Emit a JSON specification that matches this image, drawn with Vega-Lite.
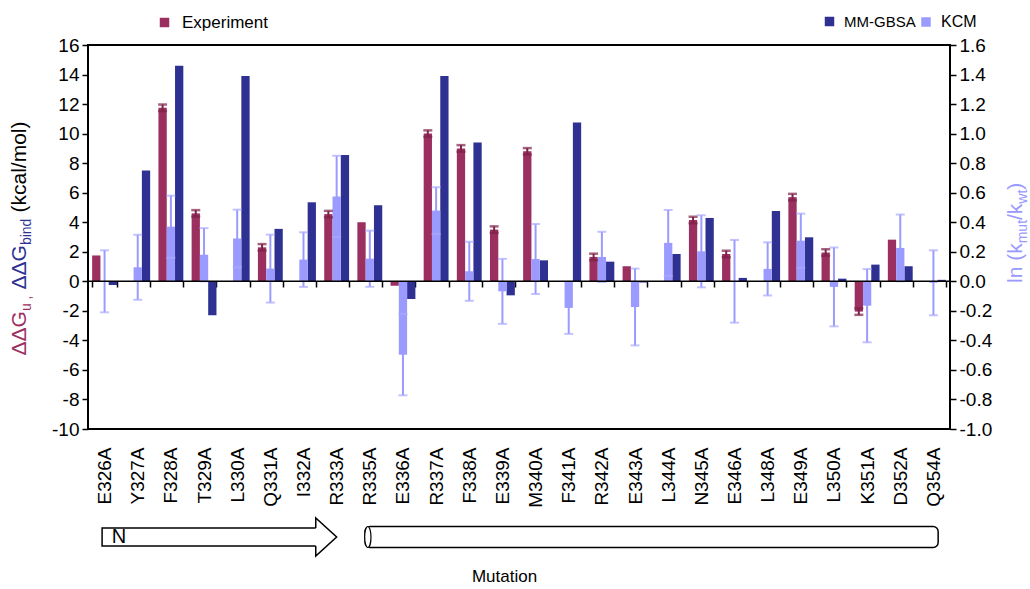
{
  "$schema": "https://vega.github.io/schema/vega-lite/v6.json",
  "padding": {"left": 7, "top": 13, "right": 0, "bottom": 0},
  "config": {
    "font": "Liberation Sans",
    "view": {"stroke": null},
    "axis": {"labelFont": "Liberation Sans", "titleFont": "Liberation Sans", "labelColor": "black", "titleFontWeight": "normal", "grid": false},
    "legend": {"labelFont": "Liberation Sans", "labelColor": "black"},
    "locale": {"number": {"decimal": ".", "thousands": ",", "grouping": [3], "currency": ["$", ""], "minus": "-"}}
  },
  "datasets": {
    "d": [
      {"m": "E326A", "s": "Experiment", "v": 1.75},
      {"m": "F328A", "s": "Experiment", "v": 11.75, "lo": 11.53, "hi": 11.97},
      {"m": "T329A", "s": "Experiment", "v": 4.6, "lo": 4.38, "hi": 4.82},
      {"m": "Q331A", "s": "Experiment", "v": 2.3, "lo": 2.08, "hi": 2.52},
      {"m": "R333A", "s": "Experiment", "v": 4.55, "lo": 4.33, "hi": 4.77},
      {"m": "R335A", "s": "Experiment", "v": 4.0},
      {"m": "E336A", "s": "Experiment", "v": -0.3},
      {"m": "R337A", "s": "Experiment", "v": 10.0, "lo": 9.78, "hi": 10.22},
      {"m": "F338A", "s": "Experiment", "v": 9.0, "lo": 8.78, "hi": 9.22},
      {"m": "E339A", "s": "Experiment", "v": 3.5, "lo": 3.28, "hi": 3.72},
      {"m": "M340A", "s": "Experiment", "v": 8.8, "lo": 8.58, "hi": 9.02},
      {"m": "R342A", "s": "Experiment", "v": 1.65, "lo": 1.43, "hi": 1.87},
      {"m": "E343A", "s": "Experiment", "v": 1.02},
      {"m": "N345A", "s": "Experiment", "v": 4.15, "lo": 3.93, "hi": 4.37},
      {"m": "E346A", "s": "Experiment", "v": 1.85, "lo": 1.63, "hi": 2.07},
      {"m": "E349A", "s": "Experiment", "v": 5.7, "lo": 5.48, "hi": 5.92},
      {"m": "L350A", "s": "Experiment", "v": 1.95, "lo": 1.73, "hi": 2.17},
      {"m": "K351A", "s": "Experiment", "v": -2.05, "lo": -2.27, "hi": -1.83},
      {"m": "D352A", "s": "Experiment", "v": 2.82},
      {"m": "E326A", "s": "MM-GBSA", "v": -0.25},
      {"m": "Y327A", "s": "MM-GBSA", "v": 7.5},
      {"m": "F328A", "s": "MM-GBSA", "v": 14.6},
      {"m": "T329A", "s": "MM-GBSA", "v": -2.3},
      {"m": "L330A", "s": "MM-GBSA", "v": 13.9},
      {"m": "Q331A", "s": "MM-GBSA", "v": 3.55},
      {"m": "I332A", "s": "MM-GBSA", "v": 5.35},
      {"m": "R333A", "s": "MM-GBSA", "v": 8.55},
      {"m": "R335A", "s": "MM-GBSA", "v": 5.15},
      {"m": "E336A", "s": "MM-GBSA", "v": -1.2},
      {"m": "R337A", "s": "MM-GBSA", "v": 13.9},
      {"m": "F338A", "s": "MM-GBSA", "v": 9.4},
      {"m": "E339A", "s": "MM-GBSA", "v": -0.95},
      {"m": "M340A", "s": "MM-GBSA", "v": 1.42},
      {"m": "F341A", "s": "MM-GBSA", "v": 10.75},
      {"m": "R342A", "s": "MM-GBSA", "v": 1.33},
      {"m": "E343A", "s": "MM-GBSA", "v": -0.08},
      {"m": "L344A", "s": "MM-GBSA", "v": 1.85},
      {"m": "N345A", "s": "MM-GBSA", "v": 4.29},
      {"m": "E346A", "s": "MM-GBSA", "v": 0.23},
      {"m": "L348A", "s": "MM-GBSA", "v": 4.76},
      {"m": "E349A", "s": "MM-GBSA", "v": 2.98},
      {"m": "L350A", "s": "MM-GBSA", "v": 0.18},
      {"m": "K351A", "s": "MM-GBSA", "v": 1.13},
      {"m": "D352A", "s": "MM-GBSA", "v": 1.02},
      {"m": "Q354A", "s": "MM-GBSA", "v": 0.1},
      {"m": "E326A", "s": "KCM", "v": 0.0, "lo": -0.21, "hi": 0.21},
      {"m": "Y327A", "s": "KCM", "v": 0.095, "lo": -0.125, "hi": 0.315},
      {"m": "F328A", "s": "KCM", "v": 0.37, "lo": 0.16, "hi": 0.58},
      {"m": "T329A", "s": "KCM", "v": 0.18, "lo": 0.0, "hi": 0.36},
      {"m": "L330A", "s": "KCM", "v": 0.29, "lo": 0.095, "hi": 0.485},
      {"m": "Q331A", "s": "KCM", "v": 0.086, "lo": -0.144, "hi": 0.316},
      {"m": "I332A", "s": "KCM", "v": 0.147, "lo": -0.038, "hi": 0.332},
      {"m": "R333A", "s": "KCM", "v": 0.575, "lo": 0.3, "hi": 0.85},
      {"m": "R335A", "s": "KCM", "v": 0.153, "lo": -0.037, "hi": 0.343},
      {"m": "E336A", "s": "KCM", "v": -0.497, "lo": -0.772, "hi": -0.222},
      {"m": "R337A", "s": "KCM", "v": 0.479, "lo": 0.321, "hi": 0.637},
      {"m": "F338A", "s": "KCM", "v": 0.068, "lo": -0.132, "hi": 0.268},
      {"m": "E339A", "s": "KCM", "v": -0.068, "lo": -0.288, "hi": 0.152},
      {"m": "M340A", "s": "KCM", "v": 0.151, "lo": -0.086, "hi": 0.388},
      {"m": "F341A", "s": "KCM", "v": -0.18, "lo": -0.356, "hi": -0.004},
      {"m": "R342A", "s": "KCM", "v": 0.165, "lo": -0.005, "hi": 0.335},
      {"m": "E343A", "s": "KCM", "v": -0.174, "lo": -0.434, "hi": 0.086},
      {"m": "L344A", "s": "KCM", "v": 0.26, "lo": 0.037, "hi": 0.483},
      {"m": "N345A", "s": "KCM", "v": 0.203, "lo": -0.041, "hi": 0.447},
      {"m": "E346A", "s": "KCM", "v": 0.0, "lo": -0.28, "hi": 0.28},
      {"m": "L348A", "s": "KCM", "v": 0.084, "lo": -0.096, "hi": 0.264},
      {"m": "E349A", "s": "KCM", "v": 0.275, "lo": 0.092, "hi": 0.458},
      {"m": "L350A", "s": "KCM", "v": -0.038, "lo": -0.305, "hi": 0.229},
      {"m": "K351A", "s": "KCM", "v": -0.165, "lo": -0.413, "hi": 0.083},
      {"m": "D352A", "s": "KCM", "v": 0.226, "lo": 0.0, "hi": 0.452},
      {"m": "Q354A", "s": "KCM", "v": -0.01, "lo": -0.23, "hi": 0.21}
    ],
    "ss": [
      {"t": "strand", "a": "E326A", "b": "R333A"},
      {"t": "helix", "a": "R335A", "b": "Q354A"}
    ]
  },
  "spacing": 6,
  "resolve": {"scale": {"x": "shared"}},
  "vconcat": [
    {
      "width": 862,
      "height": 384,
      "data": {"name": "d"},
      "view": {"stroke": "black", "strokeWidth": 2},
      "resolve": {"scale": {"y": "independent", "color": "independent"}, "axis": {"y": "independent"}, "legend": {"color": "independent"}},
      "layer": [
        {
          "transform": [{"filter": "datum.s === 'Experiment'"}],
          "mark": {"type": "bar"},
          "encoding": {
            "x": {"field": "m", "type": "nominal", "scale": {"domain": ["E326A","Y327A","F328A","T329A","L330A","Q331A","I332A","R333A","R335A","E336A","R337A","F338A","E339A","M340A","F341A","R342A","E343A","L344A","N345A","E346A","L348A","E349A","L350A","K351A","D352A","Q354A"], "paddingInner": 0.25, "paddingOuter": 0.125}, "axis": {"orient": "bottom", "offset": -148, "domain": false, "ticks": true, "tickBand": "extent", "tickSize": 6, "tickWidth": 1.5, "tickColor": "black", "labelAngle": -90, "labelPadding": 160, "labelFontSize": 19, "title": null}},
            "xOffset": {"field": "s", "type": "nominal", "scale": {"domain": ["Experiment", "KCM", "MM-GBSA"]}},
            "y": {"field": "v", "type": "quantitative", "scale": {"domain": [-10, 16], "nice": false}, "axis": {"orient": "left", "values": [-10,-8,-6,-4,-2,0,2,4,6,8,10,12,14,16], "domain": false, "grid": false, "tickSize": 6, "tickWidth": 1.5, "tickColor": "black", "labelFontSize": 19, "labelPadding": 3, "title": "ΔΔG", "titleX": -62.5, "titleY": 310, "titleAngle": -90, "titleAlign": "left", "titleBaseline": "alphabetic", "titleColor": "#9b2f5f", "titleFontSize": 21}},
            "color": {"field": "s", "type": "nominal", "scale": {"domain": ["Experiment"], "range": ["#9b2f5f"]}, "legend": {"orient": "none", "legendX": 68, "legendY": -31, "title": null, "symbolType": "square", "symbolSize": 90, "symbolStrokeWidth": 0, "labelFontSize": 17, "padding": 0, "labelOffset": 9}}
          }
        },
        {
          "transform": [{"filter": "datum.s === 'MM-GBSA'"}],
          "mark": {"type": "bar"},
          "encoding": {
            "x": {"field": "m", "type": "nominal", "scale": {"domain": ["E326A","Y327A","F328A","T329A","L330A","Q331A","I332A","R333A","R335A","E336A","R337A","F338A","E339A","M340A","F341A","R342A","E343A","L344A","N345A","E346A","L348A","E349A","L350A","K351A","D352A","Q354A"], "paddingInner": 0.25, "paddingOuter": 0.125}, "axis": {"orient": "bottom", "offset": -148, "domain": false, "ticks": true, "tickBand": "extent", "tickSize": 6, "tickWidth": 1.5, "tickColor": "black", "labelAngle": -90, "labelPadding": 160, "labelFontSize": 19, "title": null}},
            "xOffset": {"field": "s", "type": "nominal", "scale": {"domain": ["Experiment", "KCM", "MM-GBSA"]}},
            "y": {"field": "v", "type": "quantitative", "scale": {"domain": [-10, 16], "nice": false}, "axis": {"orient": "left", "labels": false, "ticks": false, "domain": false, "grid": false, "title": "bind", "titleX": -57.5, "titleY": 199.6, "titleAngle": -90, "titleAlign": "left", "titleBaseline": "alphabetic", "titleColor": "#2e3192", "titleFontSize": 14}},
            "color": {"field": "s", "type": "nominal", "scale": {"domain": ["MM-GBSA"], "range": ["#2e3192"]}, "legend": {"orient": "none", "legendX": 734, "legendY": -31, "title": null, "symbolType": "square", "symbolSize": 90, "symbolStrokeWidth": 0, "labelFontSize": 15, "padding": 0, "labelOffset": 7}}
          }
        },
        {
          "transform": [{"filter": "datum.s === 'KCM'"}],
          "mark": {"type": "bar"},
          "encoding": {
            "x": {"field": "m", "type": "nominal", "scale": {"domain": ["E326A","Y327A","F328A","T329A","L330A","Q331A","I332A","R333A","R335A","E336A","R337A","F338A","E339A","M340A","F341A","R342A","E343A","L344A","N345A","E346A","L348A","E349A","L350A","K351A","D352A","Q354A"], "paddingInner": 0.25, "paddingOuter": 0.125}, "axis": {"orient": "bottom", "offset": -148, "domain": false, "ticks": true, "tickBand": "extent", "tickSize": 6, "tickWidth": 1.5, "tickColor": "black", "labelAngle": -90, "labelPadding": 160, "labelFontSize": 19, "title": null}},
            "xOffset": {"field": "s", "type": "nominal", "scale": {"domain": ["Experiment", "KCM", "MM-GBSA"]}},
            "y": {"field": "v", "type": "quantitative", "scale": {"domain": [-1, 1.6], "nice": false}, "axis": {"orient": "right", "values": [-1,-0.8,-0.6,-0.4,-0.2,0,0.2,0.4,0.6,0.8,1,1.2,1.4,1.6], "format": ".1f", "domain": false, "grid": false, "tickSize": 6, "tickWidth": 1.5, "tickColor": "black", "labelFontSize": 19, "labelPadding": 3, "title": "ln (k", "titleX": 71.5, "titleY": 237.5, "titleAngle": -90, "titleAlign": "left", "titleBaseline": "alphabetic", "titleColor": "#9999ff", "titleFontSize": 21}},
            "color": {"field": "s", "type": "nominal", "scale": {"domain": ["KCM"], "range": ["#9b9bff"]}, "legend": {"orient": "none", "legendX": 830, "legendY": -31, "title": null, "symbolType": "square", "symbolSize": 90, "symbolStrokeWidth": 0, "labelFontSize": 16, "padding": 0, "labelOffset": 7}}
          }
        },
        {
          "transform": [{"filter": "datum.s === 'KCM'"}],
          "mark": {"type": "rule", "color": "#9b9bff", "strokeWidth": 2},
          "encoding": {
            "x": {"field": "m", "type": "nominal", "scale": {"domain": ["E326A","Y327A","F328A","T329A","L330A","Q331A","I332A","R333A","R335A","E336A","R337A","F338A","E339A","M340A","F341A","R342A","E343A","L344A","N345A","E346A","L348A","E349A","L350A","K351A","D352A","Q354A"], "paddingInner": 0.25, "paddingOuter": 0.125}, "axis": {"orient": "bottom", "offset": -148, "domain": false, "ticks": true, "tickBand": "extent", "tickSize": 6, "tickWidth": 1.5, "tickColor": "black", "labelAngle": -90, "labelPadding": 160, "labelFontSize": 19, "title": null}},
            "xOffset": {"field": "s", "type": "nominal", "scale": {"domain": ["Experiment", "KCM", "MM-GBSA"]}},
            "y": {"field": "lo", "type": "quantitative", "scale": {"domain": [-1, 1.6], "nice": false}, "axis": {"orient": "right", "labels": false, "ticks": false, "domain": false, "grid": false, "title": "mut", "titleX": 76.5, "titleY": 197.8, "titleAngle": -90, "titleAlign": "left", "titleBaseline": "alphabetic", "titleColor": "#9999ff", "titleFontSize": 14}},
            "y2": {"field": "hi"}
          }
        },
        {
          "transform": [{"filter": "datum.s === 'KCM'"}],
          "mark": {"type": "tick", "color": "#a9a9ff", "thickness": 2, "size": 9},
          "encoding": {
            "x": {"field": "m", "type": "nominal", "scale": {"domain": ["E326A","Y327A","F328A","T329A","L330A","Q331A","I332A","R333A","R335A","E336A","R337A","F338A","E339A","M340A","F341A","R342A","E343A","L344A","N345A","E346A","L348A","E349A","L350A","K351A","D352A","Q354A"], "paddingInner": 0.25, "paddingOuter": 0.125}, "axis": {"orient": "bottom", "offset": -148, "domain": false, "ticks": true, "tickBand": "extent", "tickSize": 6, "tickWidth": 1.5, "tickColor": "black", "labelAngle": -90, "labelPadding": 160, "labelFontSize": 19, "title": null}},
            "xOffset": {"field": "s", "type": "nominal", "scale": {"domain": ["Experiment", "KCM", "MM-GBSA"]}},
            "y": {"field": "hi", "type": "quantitative", "scale": {"domain": [-1, 1.6], "nice": false}, "axis": {"orient": "right", "labels": false, "ticks": false, "domain": false, "grid": false, "title": "/k", "titleX": 71.5, "titleY": 174.5, "titleAngle": -90, "titleAlign": "left", "titleBaseline": "alphabetic", "titleColor": "#9999ff", "titleFontSize": 21}}
          }
        },
        {
          "transform": [{"filter": "datum.s === 'KCM'"}],
          "mark": {"type": "tick", "color": "#a9a9ff", "thickness": 2, "size": 9},
          "encoding": {
            "x": {"field": "m", "type": "nominal", "scale": {"domain": ["E326A","Y327A","F328A","T329A","L330A","Q331A","I332A","R333A","R335A","E336A","R337A","F338A","E339A","M340A","F341A","R342A","E343A","L344A","N345A","E346A","L348A","E349A","L350A","K351A","D352A","Q354A"], "paddingInner": 0.25, "paddingOuter": 0.125}, "axis": {"orient": "bottom", "offset": -148, "domain": false, "ticks": true, "tickBand": "extent", "tickSize": 6, "tickWidth": 1.5, "tickColor": "black", "labelAngle": -90, "labelPadding": 160, "labelFontSize": 19, "title": null}},
            "xOffset": {"field": "s", "type": "nominal", "scale": {"domain": ["Experiment", "KCM", "MM-GBSA"]}},
            "y": {"field": "lo", "type": "quantitative", "scale": {"domain": [-1, 1.6], "nice": false}, "axis": {"orient": "right", "labels": false, "ticks": false, "domain": false, "grid": false, "title": "wt", "titleX": 76.5, "titleY": 158.2, "titleAngle": -90, "titleAlign": "left", "titleBaseline": "alphabetic", "titleColor": "#9999ff", "titleFontSize": 14}}
          }
        },
        {
          "transform": [{"filter": "datum.s === 'Experiment' && isValid(datum.lo)"}],
          "mark": {"type": "rule", "color": "#7d2249", "strokeWidth": 2},
          "encoding": {
            "x": {"field": "m", "type": "nominal", "scale": {"domain": ["E326A","Y327A","F328A","T329A","L330A","Q331A","I332A","R333A","R335A","E336A","R337A","F338A","E339A","M340A","F341A","R342A","E343A","L344A","N345A","E346A","L348A","E349A","L350A","K351A","D352A","Q354A"], "paddingInner": 0.25, "paddingOuter": 0.125}, "axis": {"orient": "bottom", "offset": -148, "domain": false, "ticks": true, "tickBand": "extent", "tickSize": 6, "tickWidth": 1.5, "tickColor": "black", "labelAngle": -90, "labelPadding": 160, "labelFontSize": 19, "title": null}},
            "xOffset": {"field": "s", "type": "nominal", "scale": {"domain": ["Experiment", "KCM", "MM-GBSA"]}},
            "y": {"field": "lo", "type": "quantitative", "scale": {"domain": [-10, 16], "nice": false}, "axis": {"orient": "left", "labels": false, "ticks": false, "domain": false, "grid": false, "title": "u ,", "titleX": -57.5, "titleY": 265.6, "titleAngle": -90, "titleAlign": "left", "titleBaseline": "alphabetic", "titleColor": "#9b2f5f", "titleFontSize": 14}},
            "y2": {"field": "hi"}
          }
        },
        {
          "transform": [{"filter": "datum.s === 'Experiment' && isValid(datum.lo)"}],
          "mark": {"type": "tick", "color": "#7d2249", "thickness": 2.5, "size": 9},
          "encoding": {
            "x": {"field": "m", "type": "nominal", "scale": {"domain": ["E326A","Y327A","F328A","T329A","L330A","Q331A","I332A","R333A","R335A","E336A","R337A","F338A","E339A","M340A","F341A","R342A","E343A","L344A","N345A","E346A","L348A","E349A","L350A","K351A","D352A","Q354A"], "paddingInner": 0.25, "paddingOuter": 0.125}, "axis": {"orient": "bottom", "offset": -148, "domain": false, "ticks": true, "tickBand": "extent", "tickSize": 6, "tickWidth": 1.5, "tickColor": "black", "labelAngle": -90, "labelPadding": 160, "labelFontSize": 19, "title": null}},
            "xOffset": {"field": "s", "type": "nominal", "scale": {"domain": ["Experiment", "KCM", "MM-GBSA"]}},
            "y": {"field": "hi", "type": "quantitative", "scale": {"domain": [-10, 16], "nice": false}, "axis": {"orient": "left", "labels": false, "ticks": false, "domain": false, "grid": false, "title": "ΔΔG", "titleX": -62.5, "titleY": 244, "titleAngle": -90, "titleAlign": "left", "titleBaseline": "alphabetic", "titleColor": "#2e3192", "titleFontSize": 21}}
          }
        },
        {
          "transform": [{"filter": "datum.s === 'Experiment' && isValid(datum.lo)"}],
          "mark": {"type": "tick", "color": "#7d2249", "thickness": 2.5, "size": 9},
          "encoding": {
            "x": {"field": "m", "type": "nominal", "scale": {"domain": ["E326A","Y327A","F328A","T329A","L330A","Q331A","I332A","R333A","R335A","E336A","R337A","F338A","E339A","M340A","F341A","R342A","E343A","L344A","N345A","E346A","L348A","E349A","L350A","K351A","D352A","Q354A"], "paddingInner": 0.25, "paddingOuter": 0.125}, "axis": {"orient": "bottom", "offset": -148, "domain": false, "ticks": true, "tickBand": "extent", "tickSize": 6, "tickWidth": 1.5, "tickColor": "black", "labelAngle": -90, "labelPadding": 160, "labelFontSize": 19, "title": null}},
            "xOffset": {"field": "s", "type": "nominal", "scale": {"domain": ["Experiment", "KCM", "MM-GBSA"]}},
            "y": {"field": "lo", "type": "quantitative", "scale": {"domain": [-10, 16], "nice": false}, "axis": {"orient": "left", "labels": false, "ticks": false, "domain": false, "grid": false, "title": "(kcal/mol)", "titleX": -62.5, "titleY": 167, "titleAngle": -90, "titleAlign": "left", "titleBaseline": "alphabetic", "titleColor": "black", "titleFontSize": 21}}
          }
        },
        {
          "data": {"values": [{}]},
          "mark": {"type": "rule", "color": "black", "strokeWidth": 1.5},
          "encoding": {
            "y": {"datum": 0, "type": "quantitative", "scale": {"domain": [-1, 1.6], "nice": false}, "axis": {"orient": "right", "labels": false, "ticks": false, "domain": false, "grid": false, "title": ")", "titleX": 71.5, "titleY": 144.2, "titleAngle": -90, "titleAlign": "left", "titleBaseline": "alphabetic", "titleColor": "#9999ff", "titleFontSize": 21}}
          }
        }
      ]
    },
    {
      "width": 862,
      "height": 38,
      "data": {"name": "ss"},
      "view": {"stroke": null},
      "layer": [
        {
          "transform": [{"filter": "datum.t === 'strand'"}],
          "mark": {"type": "rect", "fill": "white", "stroke": "black", "strokeWidth": 1.5},
          "encoding": {
            "x": {"field": "a", "type": "nominal", "bandPosition": 0.4, "scale": {"domain": ["E326A","Y327A","F328A","T329A","L330A","Q331A","I332A","R333A","R335A","E336A","R337A","F338A","E339A","M340A","F341A","R342A","E343A","L344A","N345A","E346A","L348A","E349A","L350A","K351A","D352A","Q354A"], "paddingInner": 0.25, "paddingOuter": 0.125}, "axis": {"labels": false, "ticks": false, "domain": false, "grid": false, "title": "Mutation", "titleFontSize": 17, "titleFontWeight": "normal", "titlePadding": 12, "titleX": 416}},
            "x2": {"field": "b", "bandPosition": 0},
            "y": {"datum": -0.47, "type": "quantitative", "scale": {"domain": [-1, 1]}, "axis": null},
            "y2": {"datum": 0.47}
          }
        },
        {
          "transform": [{"filter": "datum.t === 'strand'"}],
          "mark": {"type": "point", "shape": "M-1.1,-0.47L-1.1,-1L0,0L-1.1,1L-1.1,0.47", "size": 1444, "filled": true, "fill": "white", "stroke": "black", "strokeWidth": 1.5, "opacity": 1},
          "encoding": {
            "x": {"field": "b", "type": "nominal", "scale": {"domain": ["E326A","Y327A","F328A","T329A","L330A","Q331A","I332A","R333A","R335A","E336A","R337A","F338A","E339A","M340A","F341A","R342A","E343A","L344A","N345A","E346A","L348A","E349A","L350A","K351A","D352A","Q354A"], "paddingInner": 0.25, "paddingOuter": 0.125}, "axis": {"labels": false, "ticks": false, "domain": false, "grid": false, "title": "Mutation", "titleFontSize": 17, "titleFontWeight": "normal", "titlePadding": 12, "titleX": 416}},
            "y": {"datum": 0, "type": "quantitative", "axis": null}
          }
        },
        {
          "transform": [{"filter": "datum.t === 'strand'"}],
          "mark": {"type": "text", "text": "N", "fontSize": 20, "dx": 14.5, "align": "center", "baseline": "middle", "color": "black"},
          "encoding": {
            "x": {"field": "a", "type": "nominal", "scale": {"domain": ["E326A","Y327A","F328A","T329A","L330A","Q331A","I332A","R333A","R335A","E336A","R337A","F338A","E339A","M340A","F341A","R342A","E343A","L344A","N345A","E346A","L348A","E349A","L350A","K351A","D352A","Q354A"], "paddingInner": 0.25, "paddingOuter": 0.125}, "axis": {"labels": false, "ticks": false, "domain": false, "grid": false, "title": "Mutation", "titleFontSize": 17, "titleFontWeight": "normal", "titlePadding": 12, "titleX": 416}},
            "y": {"datum": 0, "type": "quantitative", "axis": null}
          }
        },
        {
          "transform": [{"filter": "datum.t === 'helix'"}],
          "mark": {"type": "rect", "fill": "white", "stroke": "black", "strokeWidth": 1.5, "cornerRadius": 5},
          "encoding": {
            "x": {"field": "a", "type": "nominal", "bandPosition": 0.31, "scale": {"domain": ["E326A","Y327A","F328A","T329A","L330A","Q331A","I332A","R333A","R335A","E336A","R337A","F338A","E339A","M340A","F341A","R342A","E343A","L344A","N345A","E346A","L348A","E349A","L350A","K351A","D352A","Q354A"], "paddingInner": 0.25, "paddingOuter": 0.125}, "axis": {"labels": false, "ticks": false, "domain": false, "grid": false, "title": "Mutation", "titleFontSize": 17, "titleFontWeight": "normal", "titlePadding": 12, "titleX": 416}},
            "x2": {"field": "b", "bandPosition": 0.69},
            "y": {"datum": -0.55, "type": "quantitative", "axis": null},
            "y2": {"datum": 0.55}
          }
        },
        {
          "transform": [{"filter": "datum.t === 'helix'"}],
          "mark": {"type": "point", "shape": "M0,-1A0.3,1,0,1,1,0,1A0.3,1,0,1,1,0,-1Z", "size": 441, "filled": true, "fill": "white", "stroke": "black", "strokeWidth": 1.2, "opacity": 1},
          "encoding": {
            "x": {"field": "a", "type": "nominal", "bandPosition": 0.42, "scale": {"domain": ["E326A","Y327A","F328A","T329A","L330A","Q331A","I332A","R333A","R335A","E336A","R337A","F338A","E339A","M340A","F341A","R342A","E343A","L344A","N345A","E346A","L348A","E349A","L350A","K351A","D352A","Q354A"], "paddingInner": 0.25, "paddingOuter": 0.125}, "axis": {"labels": false, "ticks": false, "domain": false, "grid": false, "title": "Mutation", "titleFontSize": 17, "titleFontWeight": "normal", "titlePadding": 12, "titleX": 416}},
            "y": {"datum": 0, "type": "quantitative", "axis": null}
          }
        }
      ]
    }
  ]
}
